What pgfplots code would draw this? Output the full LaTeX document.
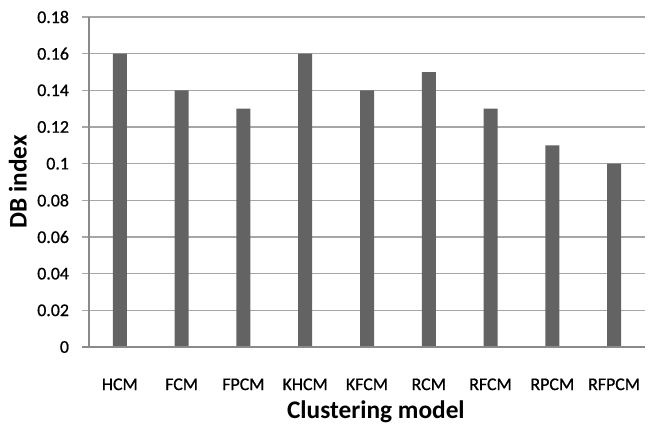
\documentclass[border=0pt]{standalone}
\usepackage{pgfplots}
\pgfplotsset{compat=1.18}
\usepackage{fontspec}
\setmainfont{Carlito}
\newfontfamily\tickfont[FakeBold=0.8]{Carlito}
\definecolor{barfill}{HTML}{636363}
\definecolor{gridgray}{HTML}{A6A6A6}
\definecolor{axisgray}{HTML}{8A8A8A}
\begin{document}
\begin{tikzpicture}[x=0.75pt,y=0.75pt]
\begin{axis}[
  scale only axis,
  width=417pt, height=247.5pt,
  xmin=-0.5, xmax=8.5,
  ymin=0, ymax=0.18,
  xtick={0,...,8},
  xticklabels={HCM,FCM,FPCM,KHCM,KFCM,RCM,RFCM,RPCM,RFPCM},
  ytick={0,0.02,0.04,0.06,0.08,0.1,0.12,0.14,0.16,0.18},
  yticklabels={0,0.02,0.04,0.06,0.08,0.1,0.12,0.14,0.16,0.18},
  ymajorgrids,
  grid style={gridgray, line width=0.9pt},
  axis line style={draw=none},
  major x tick style={draw=none},
  major y tick style={gridgray, line width=0.9pt},
  tick align=outside,
  major tick length=5.5pt,
  xtick pos=bottom, ytick pos=left,
  ticklabel style={font=\tickfont\fontsize{13.4}{15}\selectfont, text=black},
  xticklabel style={anchor=center, yshift=-22.5pt},
  yticklabel style={xshift=-6pt},
  xlabel={Clustering model},
  ylabel={DB index},
  label style={font=\bfseries\fontsize{19}{22}\selectfont, text=black},
  xlabel style={at={(axis description cs:0.516,-0.195)}, anchor=center},
  ylabel style={at={(axis description cs:-0.128,0.5)}, anchor=center, rotate=0},
  clip=false,
]
\addplot[ybar, bar width=10.5pt, fill=barfill, draw=none] coordinates {
  (0,0.16) (1,0.14) (2,0.13) (3,0.16) (4,0.14)
  (5,0.15) (6,0.13) (7,0.11) (8,0.10)
};
% left axis line and baseline
\draw[axisgray, line width=0.9pt] (axis cs:-0.5,0) -- (axis cs:-0.5,0.18);
\draw[axisgray, line width=0.9pt] ([xshift=-5.5pt]axis cs:-0.5,0) -- (axis cs:8.5,0);
\end{axis}
\pgfresetboundingbox
\useasboundingbox (-66.75pt,-58.5pt) rectangle (419.25pt,260.25pt);
\end{tikzpicture}
\end{document}
